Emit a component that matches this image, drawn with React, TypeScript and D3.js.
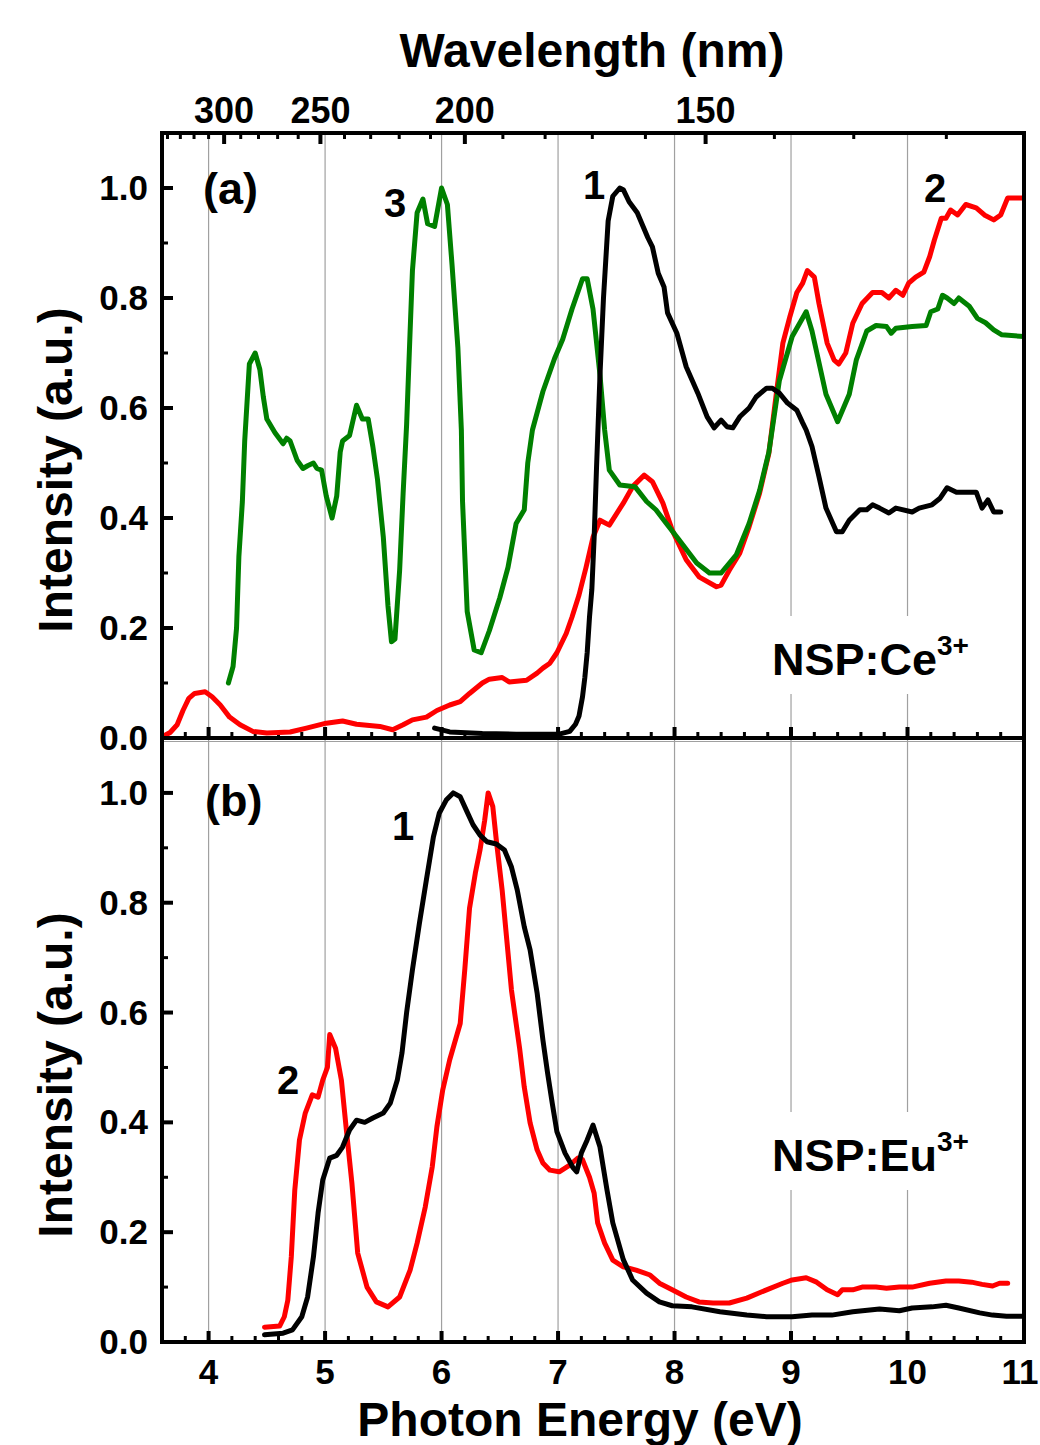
import React from "react";
import * as d3 from "d3";

type P = [number, number];

// ---------- data ----------
const greenA: P[] = [[4.17,0.10],[4.21,0.13],[4.24,0.2],[4.26,0.33],[4.29,0.43],[4.31,0.54],[4.35,0.68],[4.40,0.70],[4.44,0.67],[4.47,0.62],[4.50,0.58],[4.57,0.555],[4.64,0.535],[4.67,0.545],[4.70,0.54],[4.76,0.505],[4.81,0.49],[4.85,0.495],[4.90,0.50],[4.93,0.49],[4.97,0.487],[5.01,0.44],[5.06,0.40],[5.10,0.44],[5.13,0.52],[5.15,0.54],[5.21,0.55],[5.27,0.605],[5.32,0.58],[5.37,0.58],[5.41,0.53],[5.45,0.47],[5.50,0.365],[5.54,0.24],[5.57,0.175],[5.60,0.18],[5.64,0.305],[5.67,0.445],[5.70,0.57],[5.73,0.74],[5.75,0.85],[5.79,0.955],[5.84,0.98],[5.88,0.935],[5.94,0.93],[6.00,1.0],[6.05,0.97],[6.09,0.86],[6.14,0.71],[6.17,0.56],[6.18,0.43],[6.22,0.23],[6.28,0.16],[6.34,0.155],[6.41,0.195],[6.50,0.255],[6.57,0.31],[6.64,0.39],[6.71,0.415],[6.74,0.50],[6.78,0.56],[6.87,0.63],[6.97,0.69],[7.04,0.725],[7.12,0.78],[7.21,0.835],[7.25,0.835],[7.30,0.78],[7.36,0.66],[7.40,0.56],[7.44,0.487],[7.53,0.46],[7.66,0.457],[7.76,0.43],[7.84,0.415],[7.93,0.39],[8.04,0.36],[8.19,0.318],[8.30,0.30],[8.40,0.30],[8.53,0.333],[8.64,0.39],[8.73,0.45],[8.81,0.52],[8.90,0.65],[9.01,0.73],[9.13,0.775],[9.18,0.74],[9.30,0.625],[9.40,0.575],[9.50,0.625],[9.56,0.687],[9.65,0.74],[9.73,0.75],[9.82,0.748],[9.86,0.736],[9.90,0.745],[10.04,0.748],[10.16,0.75],[10.20,0.775],[10.26,0.78],[10.30,0.805],[10.34,0.80],[10.40,0.79],[10.44,0.80],[10.53,0.785],[10.60,0.763],[10.67,0.755],[10.74,0.742],[10.81,0.733],[11.0,0.73]];

const blackA: P[] = [[5.94,0.018],[6.07,0.011],[6.35,0.008],[6.64,0.007],[7.01,0.007],[7.10,0.012],[7.15,0.025],[7.18,0.04],[7.21,0.075],[7.23,0.11],[7.25,0.155],[7.27,0.22],[7.29,0.27],[7.31,0.365],[7.33,0.49],[7.36,0.66],[7.39,0.80],[7.43,0.94],[7.47,0.985],[7.53,1.0],[7.56,0.997],[7.61,0.975],[7.68,0.955],[7.73,0.93],[7.77,0.91],[7.81,0.893],[7.86,0.845],[7.91,0.82],[7.94,0.773],[8.02,0.736],[8.10,0.675],[8.20,0.627],[8.28,0.584],[8.34,0.564],[8.40,0.578],[8.45,0.566],[8.50,0.564],[8.56,0.584],[8.64,0.60],[8.70,0.62],[8.79,0.636],[8.84,0.636],[8.90,0.627],[8.97,0.609],[9.05,0.596],[9.10,0.573],[9.13,0.56],[9.18,0.53],[9.24,0.475],[9.30,0.418],[9.39,0.375],[9.44,0.375],[9.50,0.396],[9.59,0.415],[9.65,0.415],[9.70,0.424],[9.76,0.418],[9.84,0.409],[9.90,0.418],[10.04,0.411],[10.10,0.418],[10.21,0.424],[10.28,0.436],[10.34,0.455],[10.42,0.447],[10.59,0.447],[10.64,0.418],[10.69,0.433],[10.74,0.411],[10.80,0.411]];

const redA: P[] = [[3.60,0.002],[3.67,0.01],[3.73,0.024],[3.78,0.05],[3.83,0.072],[3.88,0.081],[3.97,0.084],[4.03,0.075],[4.10,0.06],[4.18,0.038],[4.27,0.024],[4.38,0.012],[4.50,0.009],[4.70,0.011],[4.84,0.018],[5.01,0.027],[5.15,0.031],[5.27,0.025],[5.47,0.021],[5.58,0.015],[5.67,0.024],[5.75,0.033],[5.87,0.038],[5.96,0.05],[6.07,0.06],[6.16,0.066],[6.24,0.081],[6.35,0.10],[6.41,0.107],[6.52,0.11],[6.58,0.102],[6.73,0.105],[6.82,0.118],[6.87,0.127],[6.93,0.136],[6.99,0.155],[7.07,0.19],[7.12,0.22],[7.18,0.26],[7.24,0.31],[7.30,0.365],[7.36,0.396],[7.44,0.387],[7.56,0.427],[7.64,0.457],[7.74,0.478],[7.81,0.466],[7.90,0.427],[7.98,0.378],[8.10,0.324],[8.21,0.293],[8.36,0.275],[8.40,0.278],[8.47,0.305],[8.56,0.336],[8.64,0.384],[8.73,0.445],[8.81,0.518],[8.87,0.62],[8.93,0.718],[8.99,0.766],[9.05,0.81],[9.10,0.827],[9.14,0.85],[9.20,0.838],[9.24,0.79],[9.31,0.718],[9.37,0.687],[9.41,0.68],[9.47,0.70],[9.53,0.754],[9.61,0.79],[9.70,0.81],[9.78,0.81],[9.84,0.80],[9.90,0.814],[9.96,0.805],[10.01,0.827],[10.07,0.838],[10.14,0.847],[10.19,0.875],[10.23,0.905],[10.29,0.945],[10.33,0.945],[10.37,0.96],[10.43,0.951],[10.50,0.97],[10.59,0.964],[10.66,0.951],[10.74,0.942],[10.80,0.951],[10.86,0.982],[11.0,0.982]];

const blackB: P[] = [[4.48,0.013],[4.64,0.016],[4.72,0.022],[4.80,0.046],[4.85,0.082],[4.90,0.155],[4.94,0.235],[4.98,0.295],[5.04,0.335],[5.10,0.34],[5.15,0.355],[5.21,0.386],[5.27,0.404],[5.34,0.40],[5.41,0.408],[5.50,0.417],[5.56,0.435],[5.62,0.477],[5.66,0.526],[5.70,0.60],[5.75,0.678],[5.81,0.763],[5.87,0.842],[5.93,0.92],[5.98,0.963],[6.04,0.987],[6.10,1.0],[6.16,0.993],[6.22,0.965],[6.27,0.942],[6.33,0.923],[6.39,0.911],[6.47,0.907],[6.54,0.896],[6.60,0.865],[6.65,0.823],[6.71,0.756],[6.76,0.714],[6.82,0.636],[6.87,0.55],[6.91,0.49],[6.95,0.435],[6.99,0.383],[7.06,0.344],[7.13,0.317],[7.16,0.31],[7.20,0.344],[7.25,0.368],[7.30,0.395],[7.36,0.355],[7.42,0.277],[7.47,0.217],[7.56,0.15],[7.64,0.113],[7.76,0.089],[7.87,0.073],[7.98,0.066],[8.15,0.064],[8.39,0.055],[8.62,0.049],[8.79,0.046],[9.01,0.046],[9.18,0.049],[9.35,0.049],[9.53,0.055],[9.76,0.06],[9.93,0.057],[10.04,0.062],[10.21,0.064],[10.33,0.067],[10.44,0.062],[10.62,0.053],[10.73,0.049],[10.85,0.047],[11.0,0.047]];

const redB: P[] = [[4.48,0.027],[4.61,0.029],[4.65,0.046],[4.68,0.076],[4.71,0.155],[4.74,0.277],[4.78,0.368],[4.83,0.417],[4.89,0.45],[4.94,0.446],[4.98,0.477],[5.02,0.50],[5.04,0.56],[5.09,0.535],[5.14,0.477],[5.18,0.392],[5.23,0.29],[5.28,0.162],[5.36,0.10],[5.44,0.073],[5.54,0.064],[5.64,0.082],[5.73,0.131],[5.79,0.18],[5.86,0.246],[5.92,0.319],[5.96,0.392],[6.01,0.459],[6.07,0.514],[6.16,0.58],[6.20,0.68],[6.24,0.79],[6.29,0.854],[6.33,0.896],[6.37,0.95],[6.40,1.0],[6.44,0.975],[6.47,0.914],[6.52,0.823],[6.56,0.732],[6.60,0.641],[6.64,0.58],[6.67,0.535],[6.71,0.464],[6.76,0.399],[6.82,0.35],[6.87,0.326],[6.93,0.313],[7.01,0.31],[7.10,0.322],[7.17,0.335],[7.21,0.332],[7.27,0.30],[7.31,0.271],[7.34,0.217],[7.40,0.18],[7.47,0.149],[7.56,0.137],[7.67,0.131],[7.79,0.122],[7.87,0.107],[7.98,0.095],[8.10,0.082],[8.21,0.073],[8.33,0.071],[8.47,0.071],[8.62,0.08],[8.79,0.095],[8.93,0.107],[9.01,0.113],[9.13,0.117],[9.22,0.109],[9.31,0.095],[9.40,0.086],[9.44,0.095],[9.53,0.095],[9.61,0.10],[9.73,0.10],[9.82,0.098],[9.93,0.10],[10.04,0.10],[10.19,0.107],[10.33,0.111],[10.44,0.111],[10.55,0.109],[10.64,0.105],[10.73,0.102],[10.79,0.107],[10.86,0.107]];

const xMajorTicks = [4, 5, 6, 7, 8, 9, 10, 11];
const gridLines = [4, 5, 6, 7, 8, 9, 10];
const yMajorTicks = [0, 0.2, 0.4, 0.6, 0.8, 1.0];
const wlMajor = [300, 250, 200, 150];

// ---------- layout ----------
const W = 1040, H = 1445;
const L = 162, R = 1024;
const topA = 133, botA = 738, botB = 1342;
const FONT = "'Liberation Sans', Arial, Helvetica, sans-serif";

const x = d3.scaleLinear().domain([3.6, 11]).range([L, R]);
const yA = d3.scaleLinear().domain([0, 1.1]).range([botA, topA]);
const yB = d3.scaleLinear().domain([0, 1.1]).range([botB, botA]);

const xMinor = d3.range(3.6, 11.0001, 0.2).map((v) => +v.toFixed(2)).filter((v) => !xMajorTicks.includes(v));
const yMinor = d3.range(0.1, 1.1, 0.2).map((v) => +v.toFixed(2));
const wlMinor = d3.range(340, 110, -10).filter((v) => !wlMajor.includes(v));

function Curve({ data, y, color, clip }: { data: P[]; y: d3.ScaleLinear<number, number>; color: string; clip: string }) {
  const line = d3.line<P>().x((d) => x(d[0])).y((d) => y(d[1]));
  return <path d={line(data) || ""} fill="none" stroke={color} strokeWidth={5} strokeLinejoin="round" strokeLinecap="round" clipPath={`url(#${clip})`} />;
}

function Panel({ y, top, bottom }: { y: d3.ScaleLinear<number, number>; top: number; bottom: number }) {
  return (
    <g>
      {gridLines.map((g) => (
        <line key={"g" + g} x1={x(g)} x2={x(g)} y1={top} y2={bottom} stroke="#a0a0a0" strokeWidth={1.2} />
      ))}
      {xMajorTicks.map((t) => (
        <line key={"xm" + t} x1={x(t)} x2={x(t)} y1={bottom} y2={bottom - 11} stroke="#000" strokeWidth={4} />
      ))}
      {xMinor.map((t) => (
        <line key={"xn" + t} x1={x(t)} x2={x(t)} y1={bottom} y2={bottom - 6} stroke="#000" strokeWidth={3} />
      ))}
      {yMajorTicks.map((t) => (
        <line key={"ym" + t} x1={L} x2={L + 11} y1={y(t)} y2={y(t)} stroke="#000" strokeWidth={4} />
      ))}
      {yMinor.map((t) => (
        <line key={"yn" + t} x1={L} x2={L + 6} y1={y(t)} y2={y(t)} stroke="#000" strokeWidth={3} />
      ))}
      {yMajorTicks.map((t) => (
        <text key={"yl" + t} x={148} y={y(t) + 12} textAnchor="end" fontSize={35} fontWeight="bold" fontFamily={FONT}>
          {t.toFixed(1)}
        </text>
      ))}
    </g>
  );
}

export default function App() {
  const wlx = (nm: number) => x(1240 / nm);
  return (
    <svg width={W} height={H} style={{ position: "absolute", left: 0, top: 0, background: "#fff" }} fontFamily={FONT}>
      <defs>
        <clipPath id="clipA">
          <rect x={L} y={topA} width={R - L} height={botA - topA} />
        </clipPath>
        <clipPath id="clipB">
          <rect x={L} y={botA} width={R - L} height={botB - botA} />
        </clipPath>
      </defs>
      <rect x={0} y={0} width={W} height={H} fill="#fff" />

      <Panel y={yA} top={topA} bottom={botA} />
      <Panel y={yB} top={botA} bottom={botB} />

      {/* label backgrounds */}
      <rect x={765} y={616} width={215} height={78} fill="#fff" />
      <rect x={765} y={1112} width={215} height={78} fill="#fff" />

      {/* top wavelength ticks */}
      {wlMajor.map((w) => (
        <line key={"wm" + w} x1={wlx(w)} x2={wlx(w)} y1={topA} y2={topA + 11} stroke="#000" strokeWidth={4} />
      ))}
      {wlMinor.map((w) => (
        <line key={"wn" + w} x1={wlx(w)} x2={wlx(w)} y1={topA} y2={topA + 6} stroke="#000" strokeWidth={3} />
      ))}
      {wlMajor.map((w) => (
        <text key={"wl" + w} x={wlx(w)} y={123} textAnchor="middle" fontSize={36} fontWeight="bold">
          {w}
        </text>
      ))}
      <text x={592} y={67} textAnchor="middle" fontSize={48} fontWeight="bold">Wavelength (nm)</text>

      {/* curves */}
      <Curve data={redA} y={yA} color="#ff0000" clip="clipA" />
      <Curve data={greenA} y={yA} color="#008000" clip="clipA" />
      <Curve data={blackA} y={yA} color="#000000" clip="clipA" />
      <Curve data={redB} y={yB} color="#ff0000" clip="clipB" />
      <Curve data={blackB} y={yB} color="#000000" clip="clipB" />

      {/* frames */}
      <line x1={L} x2={R} y1={botA + 3.5} y2={botA + 3.5} stroke="#a0a0a0" strokeWidth={1} />
      <rect x={L} y={topA} width={R - L} height={botA - topA} fill="none" stroke="#000" strokeWidth={4} />
      <path d={`M${L},${botA} V${botB} H${R} V${botA}`} fill="none" stroke="#000" strokeWidth={4} />

      {/* bottom x labels */}
      {xMajorTicks.map((t) => (
        <text key={"xl" + t} x={t === 11 ? x(t) - 4 : x(t)} y={1384} textAnchor="middle" fontSize={35} fontWeight="bold">
          {t}
        </text>
      ))}
      <text x={580} y={1436} textAnchor="middle" fontSize={48} fontWeight="bold">Photon Energy (eV)</text>

      {/* y titles */}
      <text transform={`translate(72,470) rotate(-90)`} textAnchor="middle" fontSize={48} fontWeight="bold">Intensity (a.u.)</text>
      <text transform={`translate(72,1075) rotate(-90)`} textAnchor="middle" fontSize={48} fontWeight="bold">Intensity (a.u.)</text>

      {/* panel annotations */}
      <text x={203} y={204} fontSize={45} fontWeight="bold">(a)</text>
      <text x={384} y={217} fontSize={40} fontWeight="bold">3</text>
      <text x={583} y={199} fontSize={40} fontWeight="bold">1</text>
      <text x={924} y={202} fontSize={40} fontWeight="bold">2</text>
      <text x={772} y={675} fontSize={45} fontWeight="bold">
        NSP:Ce<tspan fontSize={28} dy={-20}>3+</tspan>
      </text>

      <text x={205} y={816} fontSize={45} fontWeight="bold">(b)</text>
      <text x={392} y={840} fontSize={40} fontWeight="bold">1</text>
      <text x={277} y={1094} fontSize={40} fontWeight="bold">2</text>
      <text x={772} y={1171} fontSize={45} fontWeight="bold">
        NSP:Eu<tspan fontSize={28} dy={-20}>3+</tspan>
      </text>
    </svg>
  );
}
